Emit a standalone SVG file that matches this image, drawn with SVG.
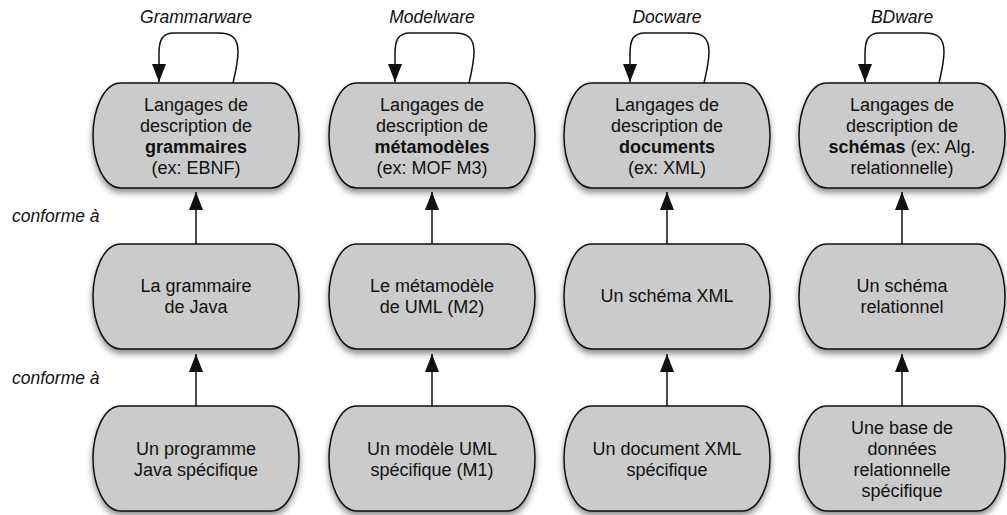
<svg xmlns="http://www.w3.org/2000/svg" xmlns:xlink="http://www.w3.org/1999/xlink" width="1007" height="515" viewBox="0 0 1007 515">
<style>
.box{fill:#cbcbcb;stroke:#111;stroke-width:1.5;filter:url(#sh)}
.t{font-family:"Liberation Sans",Arial,sans-serif;font-size:18px;fill:#111;text-anchor:middle}
.b{font-weight:bold}
.lab{font-family:"Liberation Sans",Arial,sans-serif;font-size:17.5px;font-style:italic;fill:#111}
.c{fill:none;stroke:#111;stroke-width:1.5}
</style>
<defs>
<filter id="sh" x="-10%" y="-10%" width="120%" height="130%">
<feDropShadow dx="0" dy="4" stdDeviation="3" flood-color="#000" flood-opacity="0.45"/>
</filter>
<path id="shape" d="M28,0 H178 C196,0 206,28 206,52.5 C206,77 196,105 178,105 H28 C10,105 0,77 0,52.5 C0,28 10,0 28,0 Z"/>
<marker id="ah" viewBox="0 0 18 14" refX="18" refY="7" markerWidth="18" markerHeight="14" markerUnits="userSpaceOnUse" orient="auto">
<path d="M0,0 L18,7 L0,14 Z" fill="#111"/>
</marker>
</defs>

<g id="labels">
<text class="lab" x="196" y="23" text-anchor="middle">Grammarware</text>
<text class="lab" x="432" y="23" text-anchor="middle">Modelware</text>
<text class="lab" x="667" y="23" text-anchor="middle">Docware</text>
<text class="lab" x="902" y="23" text-anchor="middle">BDware</text>
<text class="lab" x="12" y="222">conforme à</text>
<text class="lab" x="12" y="384">conforme à</text>
</g>

<g id="connectors">
<path class="c" marker-end="url(#ah)" d="M233,83 C236,70 238,62 238,52 C238,38 232,33 218,33 H174 C162,33 159,40 159,54 V82"/>
<path class="c" marker-end="url(#ah)" d="M469,83 C472,70 474,62 474,52 C474,38 468,33 454,33 H410 C398,33 395,40 395,54 V82"/>
<path class="c" marker-end="url(#ah)" d="M704,83 C707,70 709,62 709,52 C709,38 703,33 689,33 H645 C633,33 630,40 630,54 V82"/>
<path class="c" marker-end="url(#ah)" d="M939,83 C942,70 944,62 944,52 C944,38 938,33 924,33 H880 C868,33 865,40 865,54 V82"/>
<line class="c" marker-end="url(#ah)" x1="196" y1="244" x2="196" y2="192"/>
<line class="c" marker-end="url(#ah)" x1="432" y1="244" x2="432" y2="192"/>
<line class="c" marker-end="url(#ah)" x1="667" y1="244" x2="667" y2="192"/>
<line class="c" marker-end="url(#ah)" x1="902" y1="244" x2="902" y2="192"/>
<line class="c" marker-end="url(#ah)" x1="196" y1="406" x2="196" y2="354"/>
<line class="c" marker-end="url(#ah)" x1="432" y1="406" x2="432" y2="354"/>
<line class="c" marker-end="url(#ah)" x1="667" y1="406" x2="667" y2="354"/>
<line class="c" marker-end="url(#ah)" x1="902" y1="406" x2="902" y2="354"/>
</g>

<g id="n-grammaire-lang">
<use xlink:href="#shape" class="box" transform="translate(93,83)"/>
<text class="t" x="196" y="111">Langages de</text>
<text class="t" x="196" y="132">description de</text>
<text class="t b" x="196" y="153">grammaires</text>
<text class="t" x="196" y="174">(ex: EBNF)</text>
</g>
<g id="n-meta-lang">
<use xlink:href="#shape" class="box" transform="translate(329,83)"/>
<text class="t" x="432" y="111">Langages de</text>
<text class="t" x="432" y="132">description de</text>
<text class="t b" x="432" y="153">métamodèles</text>
<text class="t" x="432" y="174">(ex: MOF M3)</text>
</g>
<g id="n-doc-lang">
<use xlink:href="#shape" class="box" transform="translate(564,83)"/>
<text class="t" x="667" y="111">Langages de</text>
<text class="t" x="667" y="132">description de</text>
<text class="t b" x="667" y="153">documents</text>
<text class="t" x="667" y="174">(ex: XML)</text>
</g>
<g id="n-schema-lang">
<use xlink:href="#shape" class="box" transform="translate(799,83)"/>
<text class="t" x="902" y="111">Langages de</text>
<text class="t" x="902" y="132">description de</text>
<text class="t" x="902" y="153"><tspan class="b">schémas</tspan> (ex: Alg.</text>
<text class="t" x="902" y="174">relationnelle)</text>
</g>

<g id="n-grammaire-java">
<use xlink:href="#shape" class="box" transform="translate(93,244)"/>
<text class="t" x="196" y="292">La grammaire</text>
<text class="t" x="196" y="313">de Java</text>
</g>
<g id="n-meta-uml">
<use xlink:href="#shape" class="box" transform="translate(329,244)"/>
<text class="t" x="432" y="292">Le métamodèle</text>
<text class="t" x="432" y="313">de UML (M2)</text>
</g>
<g id="n-schema-xml">
<use xlink:href="#shape" class="box" transform="translate(564,244)"/>
<text class="t" x="667" y="302">Un schéma XML</text>
</g>
<g id="n-schema-rel">
<use xlink:href="#shape" class="box" transform="translate(799,244)"/>
<text class="t" x="902" y="292">Un schéma</text>
<text class="t" x="902" y="313">relationnel</text>
</g>

<g id="n-programme">
<use xlink:href="#shape" class="box" transform="translate(93,406)"/>
<text class="t" x="196" y="455">Un programme</text>
<text class="t" x="196" y="476">Java spécifique</text>
</g>
<g id="n-modele">
<use xlink:href="#shape" class="box" transform="translate(329,406)"/>
<text class="t" x="432" y="455">Un modèle UML</text>
<text class="t" x="432" y="476">spécifique (M1)</text>
</g>
<g id="n-document">
<use xlink:href="#shape" class="box" transform="translate(564,406)"/>
<text class="t" x="667" y="455">Un document XML</text>
<text class="t" x="667" y="476">spécifique</text>
</g>
<g id="n-base">
<use xlink:href="#shape" class="box" transform="translate(799,406)"/>
<text class="t" x="902" y="434">Une base de</text>
<text class="t" x="902" y="455">données</text>
<text class="t" x="902" y="476">relationnelle</text>
<text class="t" x="902" y="497">spécifique</text>
</g>
</svg>
